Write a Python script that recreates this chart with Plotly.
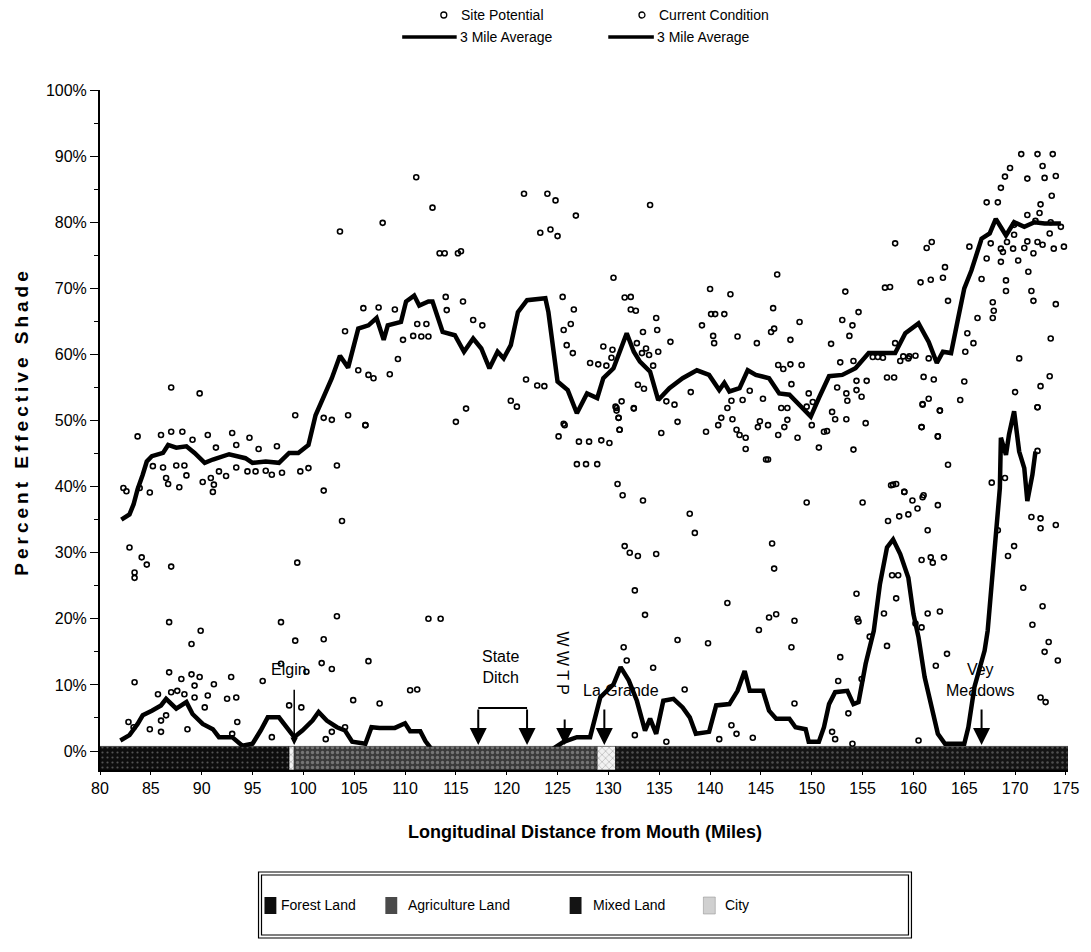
import plotly.graph_objects as go

# ---------------- data ----------------
sp_avg_x = [82.1, 82.9, 83.3, 83.7, 84.2, 84.6, 85.1, 86.2, 86.7, 87.5, 88.5, 89.3, 90.3, 91.1, 92.7, 94.3, 95.0,
            96.3, 97.6, 98.6, 99.5, 100.5, 101.2, 102.2, 102.8, 103.6, 104.4, 105.4, 106.4, 107.2, 107.9, 108.3,
            109.6, 110.1, 110.9, 111.4, 112.3, 112.7, 113.7, 114.9, 115.8, 116.7, 117.5, 118.3, 119.1, 119.7,
            120.4, 121.1, 122.0, 123.8, 124.1, 125.0, 126.0, 126.9, 127.9, 128.9, 129.5, 130.5, 131.5, 131.8,
            132.5, 133.1, 134.1, 134.9, 136.0, 137.3, 138.7, 139.9, 140.9, 141.4, 141.9, 142.9, 143.7, 144.5,
            145.8, 146.8, 147.8, 148.4, 149.9, 150.7, 151.7, 153.0, 154.3, 155.6, 157.2, 158.2, 159.2, 160.5,
            161.5, 162.3, 162.9, 163.7, 164.4, 165.0, 165.7, 166.7, 167.5, 168.1, 169.1, 169.9, 170.9, 171.9,
            172.9, 174.5]
sp_avg_y = [35.0, 35.8, 37.3, 39.6, 41.8, 43.8, 44.6, 45.1, 46.3, 45.9, 46.1, 45.1, 43.6, 44.1, 44.9, 44.3, 43.6,
            43.8, 43.6, 45.1, 45.1, 46.3, 50.8, 54.4, 56.4, 59.8, 58.0, 63.9, 64.4, 65.5, 62.2, 64.4,
            64.9, 68.0, 68.9, 67.4, 68.0, 68.0, 63.4, 62.9, 60.4, 62.4, 60.9, 57.9, 60.4, 59.4,
            61.4, 66.4, 68.2, 68.5, 66.4, 55.9, 54.6, 51.1, 54.1, 53.4, 56.4, 57.9, 61.9, 63.2,
            60.4, 58.9, 57.4, 53.1, 54.9, 56.4, 57.6, 56.9, 54.6, 55.7, 54.4, 54.9, 57.6, 56.9,
            56.4, 54.1, 53.9, 52.9, 50.6, 53.4, 56.7, 56.9, 57.9, 60.2, 60.2, 60.2, 63.2, 64.7,
            61.9, 58.7, 60.4, 60.2, 65.5, 70.0, 72.7, 77.5, 78.3, 80.5, 78.0, 80.0, 79.3, 80.0,
            79.8, 79.8]

cc_avg_x = [82.0, 82.9, 83.7, 84.2, 85.1, 86.0, 86.5, 87.5, 88.5, 89.1, 90.1, 91.1, 91.7, 93.0, 94.0, 95.0, 95.8,
            96.5, 97.6, 99.1, 99.9, 100.9, 101.5, 102.3, 103.3, 104.1, 104.8, 106.1, 106.7, 107.5, 109.0, 110.0,
            110.5, 111.5, 112.0, 112.6, 114.0, 118.0, 122.0, 124.5, 125.6, 126.9, 128.2, 129.2, 130.5, 131.2,
            132.0, 132.8, 133.6, 134.1, 134.7, 135.4, 136.4, 137.3, 138.0, 138.6, 139.9, 140.6, 141.9, 142.7,
            143.4, 143.9, 145.2, 145.8, 146.5, 147.8, 148.4, 149.4, 149.7, 150.7, 151.2, 151.7, 152.3, 153.5,
            154.1, 154.6, 155.3, 156.1, 156.7, 157.4, 158.0, 158.7, 159.5, 160.0, 160.5, 161.1, 161.8, 162.4,
            163.1, 165.0, 165.4, 166.0, 167.0, 167.3, 168.0, 168.5, 168.6, 169.1, 169.4, 169.9, 170.4, 170.9,
            171.2, 171.7, 172.0]
cc_avg_y = [1.6, 2.4, 4.1, 5.4, 6.1, 6.9, 7.9, 6.4, 7.4, 5.6, 4.1, 3.3, 2.1, 2.1, 0.8, 1.1, 3.1,
            5.1, 5.1, 2.1, 3.1, 4.6, 5.9, 4.6, 3.6, 3.1, 1.4, 1.1, 3.6, 3.5, 3.5, 4.2,
            3.0, 3.0, 1.5, 0.3, 0.0, 0.0, 0.0, 0.3, 1.4, 2.1, 2.1, 8.1, 10.1, 12.7,
            10.7, 7.6, 3.1, 4.9, 2.6, 7.6, 7.9, 6.6, 5.1, 2.6, 2.9, 6.9, 7.1, 9.1,
            12.1, 9.1, 9.1, 6.1, 4.9, 4.9, 3.6, 3.3, 1.4, 1.4, 3.6, 7.1, 8.9, 9.1,
            7.1, 7.4, 13.2, 18.2, 25.2, 30.8, 32.0, 29.8, 26.2, 20.7, 17.2, 11.2, 6.6, 2.6,
            1.1, 1.1, 3.6, 9.7, 15.2, 18.2, 30.8, 39.8, 47.4, 44.8, 47.9, 51.4, 45.3, 42.8,
            37.8, 41.8, 45.3]

sp_x = [87.0, 89.8, 83.7, 86.0, 87.0, 88.1, 89.1, 90.6, 91.4, 93.0, 94.7, 93.4, 95.6, 97.4, 99.2, 102.0, 102.8,
        104.4, 106.1, 82.3, 82.6, 83.9, 84.9, 85.2, 86.2, 86.5, 86.7, 87.5, 87.8, 88.3, 88.5, 90.1, 90.9, 91.1,
        91.2, 91.7, 92.4, 93.4, 94.5, 95.3, 96.3, 96.9, 97.9, 99.7, 100.5, 102.0, 103.3, 103.8, 103.6, 104.1,
        111.1, 112.7, 107.8, 113.4, 113.9, 115.2, 115.5, 121.7, 124.0, 124.8, 126.8, 123.3, 124.3, 125.0,
        134.1, 130.5, 105.9, 107.4, 109.0, 114.0, 114.1, 115.7, 111.2, 112.1, 116.7, 117.6, 109.3, 109.8,
        110.8, 111.6, 112.3, 105.4, 106.4, 106.9, 108.5, 106.1, 115.0, 116.0, 120.4, 121.0, 121.9, 123.0,
        123.7, 125.5, 126.6, 125.6, 126.3, 125.9, 126.5, 125.1, 125.7, 128.2, 129.0, 129.8, 129.5, 130.4,
        130.3, 131.6, 132.2, 132.2, 132.7, 132.8, 133.3, 133.7, 134.0, 134.4, 133.4, 134.7, 134.8, 134.9,
        136.1, 132.9, 133.5, 130.7, 131.3, 130.8, 131.0, 131.1, 132.5, 135.7, 136.5, 138.1, 139.2, 140.0,
        140.1, 140.3, 140.4, 136.8, 135.2, 139.6,
        170.6, 172.2, 173.7, 169.5, 172.7, 169.0, 171.2, 172.9, 174.0, 168.6, 173.6, 167.2, 168.3, 172.5,
        171.2, 172.4, 172.0, 173.5, 174.5, 169.9, 173.4, 169.9, 167.6, 169.2, 171.2, 172.2, 172.7, 168.6,
        169.8, 170.9, 173.8, 174.8, 168.8, 171.8, 165.5, 167.2, 168.6, 170.3, 166.7, 169.1, 171.3, 169.1,
        171.6, 171.8, 167.8, 167.9, 174.0, 166.3, 167.8, 165.3, 165.9, 165.1, 173.5, 170.4, 173.4, 172.5,
        170.0, 172.2, 165.0, 164.6, 162.6, 160.9, 161.5, 160.8, 162.4, 161.0, 162.0, 157.4, 158.1, 158.2,
        161.8, 161.3, 163.1, 162.9, 160.7, 161.7, 157.2, 157.7, 163.4, 158.2, 159.5, 161.5, 158.7, 146.6,
        153.3, 142.0, 146.2, 154.6, 153.0, 148.8, 154.0, 153.7, 140.5, 141.4, 146.0, 146.3, 142.7, 144.6,
        147.9, 151.9, 146.7, 147.2, 147.9, 149.0, 152.8, 154.1, 148.0, 152.5, 154.4, 155.4, 153.4, 154.4,
        154.9, 143.9, 142.1, 143.2, 145.2, 141.7, 147.0, 147.6, 149.7, 150.1, 149.5, 153.5, 141.1, 142.2,
        144.9, 147.6, 152.0, 152.3, 153.4, 150.0, 155.3, 140.8, 142.6, 142.9, 144.7, 145.7, 147.3, 146.7,
        143.5, 151.2, 151.5, 150.7, 143.5, 148.6, 145.7, 154.1, 156.0, 156.5, 157.0, 159.0, 159.6, 160.2]
sp_y = [55.0, 54.1, 47.6, 47.8, 48.3, 48.3, 47.1, 47.8, 45.9, 48.1, 47.4, 46.3, 45.7, 46.1, 50.8, 50.4, 50.1,
        50.8, 49.3, 39.8, 39.3, 39.8, 39.1, 43.1, 42.9, 41.3, 40.4, 43.2, 39.9, 43.2, 41.7, 40.7, 41.3, 39.2,
        40.3, 42.3, 41.6, 42.9, 42.3, 42.3, 42.4, 41.8, 42.1, 42.3, 42.8, 39.4, 43.2, 34.8, 78.6, 63.5,
        86.8, 82.2, 79.9, 75.3, 75.3, 75.3, 75.6, 84.3, 84.3, 83.3, 81.0, 78.4, 78.9, 77.9,
        82.6, 71.6, 67.0, 67.1, 66.8, 68.7, 66.7, 68.0, 64.6, 64.6, 65.2, 64.4, 59.3, 62.2,
        62.8, 62.7, 62.7, 57.6, 56.9, 56.4, 57.0, 49.3, 49.8, 51.8, 53.0, 52.1, 56.2, 55.3,
        55.2, 68.7, 66.8, 63.7, 64.6, 61.4, 60.2, 47.6, 49.3, 58.7, 58.5, 58.3, 61.2, 60.7,
        59.5, 68.6, 68.7, 66.8, 66.6, 61.7, 60.2, 60.9, 59.9, 58.3, 63.4, 65.5, 63.7, 60.4,
        61.9, 55.4, 54.8, 52.1, 52.9, 51.5, 50.4, 48.6, 51.8, 52.9, 52.4, 54.3, 64.4, 69.9,
        66.1, 62.8, 61.7, 49.8, 48.1, 48.3,
        90.3, 90.3, 90.3, 88.2, 88.5, 86.9, 86.6, 86.7, 87.0, 85.2, 84.0, 83.0, 83.0, 82.7,
        81.1, 81.4, 80.2, 80.0, 79.3, 79.6, 78.3, 78.1, 76.8, 77.0, 77.1, 77.0, 76.6, 76.0,
        76.0, 76.1, 76.0, 76.3, 75.5, 75.3, 76.3, 74.5, 74.0, 74.2, 71.4, 71.2, 72.5, 69.6,
        69.6, 68.1, 67.9, 66.6, 67.6, 65.5, 65.5, 63.2, 61.7, 60.4, 62.4, 59.4, 56.7, 55.2,
        54.3, 52.0, 55.9, 53.1, 51.5, 52.5, 53.3, 49.0, 47.6, 56.6, 56.2, 56.5, 56.5, 76.8,
        77.0, 76.1, 73.2, 71.6, 70.9, 71.3, 70.1, 70.2, 68.1, 61.7, 59.4, 59.4, 59.0, 72.1,
        69.5, 69.1, 67.0, 66.4, 65.2, 64.9, 64.4, 62.8, 66.1, 66.1, 63.4, 63.9, 62.7, 61.7,
        62.2, 61.6, 58.4, 57.8, 58.5, 58.4, 58.8, 59.0, 55.5, 55.0, 56.0, 56.0, 54.1, 54.6,
        53.6, 54.5, 53.0, 53.1, 53.3, 51.9, 51.9, 51.9, 54.1, 52.8, 52.1, 53.0, 50.4, 50.2,
        49.9, 50.1, 51.3, 50.2, 50.2, 49.3, 49.6, 49.3, 48.6, 47.8, 49.0, 49.3, 49.0, 47.8,
        47.4, 48.3, 48.4, 45.9, 45.7, 47.4, 44.1, 45.6, 59.6, 59.6, 59.5, 59.7, 59.7, 59.8]

cc_x = [82.9, 84.1, 84.6, 83.4, 83.4, 87.0, 99.4, 86.8, 89.9, 89.0, 97.8, 99.2, 102.0, 97.8, 101.8, 102.8,
        83.4, 86.8, 88.0, 89.0, 89.3, 89.8, 91.2, 92.9, 85.7, 87.0, 87.6, 88.3, 89.3, 90.6, 92.5, 93.4, 104.9,
        98.6, 99.8, 90.3, 86.5, 86.0, 82.8, 83.3, 84.9, 86.0, 88.6, 93.5, 93.0, 96.9, 102.2, 102.8, 104.1,
        106.4, 107.5, 110.5, 111.2, 112.3, 113.5, 103.3, 100.3, 96.0,
        125.6, 130.8, 131.0, 132.5, 131.1, 127.1, 128.1, 129.3, 130.1, 126.9, 127.8, 128.9, 130.9, 131.4,
        133.4, 131.6, 132.1, 132.9, 134.7, 132.6, 133.6, 131.5, 131.8, 134.4, 136.8, 137.5, 139.8, 138.0,
        138.5, 141.7, 144.8, 145.8, 146.5, 146.1, 146.3, 148.3, 148.0, 148.3, 149.5, 145.5, 142.1, 142.6,
        144.2, 140.9, 132.6, 135.7, 152.8, 152.6, 153.6, 152.0, 152.3, 154.0, 154.4, 154.5, 154.6, 155.0,
        155.7, 154.9, 157.1, 157.4, 157.8, 158.3, 159.1, 159.9, 160.9, 157.5, 158.6, 159.5, 160.4, 162.4,
        161.4, 157.9, 158.5, 158.3, 160.8, 161.7, 161.9, 163.0, 161.4, 162.6, 160.2, 160.8, 162.2, 163.3,
        160.5, 160.8, 162.4, 162.6, 160.9, 163.4, 168.3, 169.0, 169.9, 169.3, 171.6, 172.5, 172.5, 174.0,
        170.8, 172.7, 171.7, 173.3, 172.9, 174.2, 172.5, 173.0, 172.2, 167.7, 158.0, 159.1, 161.0, 172.2]
cc_y = [30.8, 29.3, 28.2, 27.0, 26.2, 27.9, 28.5, 19.5, 18.2, 16.2, 19.5, 16.7, 16.9, 13.2, 13.3, 12.4,
        10.4, 11.9, 10.9, 11.6, 9.9, 11.2, 10.1, 11.2, 8.6, 8.9, 9.1, 8.6, 8.1, 8.4, 7.9, 8.1, 7.7,
        6.9, 6.6, 6.6, 5.4, 4.6, 4.4, 3.6, 3.3, 2.9, 3.3, 4.4, 2.6, 2.1, 1.8, 2.9, 3.6,
        13.6, 7.2, 9.2, 9.3, 20.0, 20.0, 20.4, 12.0, 10.6,
        49.5, 51.9, 50.4, 51.9, 48.6, 46.8, 46.8, 47.0, 46.6, 43.4, 43.4, 43.4, 40.4, 38.7,
        37.9, 31.0, 30.0, 29.5, 29.8, 24.3, 20.6, 15.7, 13.7, 12.6, 16.8, 9.3, 16.3, 35.9,
        33.0, 22.4, 18.3, 20.2, 20.7, 31.4, 27.6, 19.7, 15.7, 7.2, 37.6, 44.1, 3.9, 2.6,
        2.0, 1.8, 2.4, 1.4, 14.2, 10.6, 5.7, 2.9, 1.8, 1.1, 23.8, 20.0, 19.6, 37.6,
        17.3, 10.9, 20.8, 15.9, 40.2, 40.4, 39.2, 37.9, 38.4, 34.8, 35.5, 35.8, 36.7, 37.2,
        33.4, 26.6, 26.6, 23.1, 28.9, 29.3, 28.5, 29.3, 20.8, 21.1, 19.3, 18.7, 12.9, 14.7,
        1.6, 49.0, 47.6, 51.5, 52.4, 43.3, 33.4, 41.3, 31.0, 29.5, 35.4, 35.2, 33.7, 34.2,
        24.7, 21.9, 19.1, 16.5, 15.0, 13.7, 8.1, 7.4, 52.0, 40.6, 40.3, 39.2, 38.7, 45.4]

# land-use strips along the channel (miles)
land_start = [80.0, 98.6, 99.1, 128.9, 130.7]
land_end = [98.6, 99.1, 128.9, 130.7, 175.2]
land_type = ["Forest Land", "City", "Agriculture Land", "City", "Mixed Land"]

x_ticks = list(range(80, 176, 5))
y_ticks = [i / 10 for i in range(0, 11)]

# ---------------- figure ----------------
SANS = "Liberation Sans, Arial, sans-serif"

W, H = 1091, 952
ML, MR, MT, MB = 100, 14, 90, 182
PW, PH = W - ML - MR, H - MT - MB
Y_LO, Y_HI = -0.0287, 1.0
X_LO, X_HI = 80, 175.2

fig = go.Figure()

fig.add_trace(go.Scatter(x=sp_x, y=[v / 100 for v in sp_y], mode="markers", name="Site Potential",
                         marker=dict(symbol="circle-open", size=5, color="black", line=dict(width=1.6)),
                         showlegend=False))
fig.add_trace(go.Scatter(x=cc_x, y=[v / 100 for v in cc_y], mode="markers", name="Current Condition",
                         marker=dict(symbol="circle-open", size=5, color="black", line=dict(width=1.6)),
                         showlegend=False))
fig.add_trace(go.Scatter(x=sp_avg_x, y=[v / 100 for v in sp_avg_y], mode="lines", name="3 Mile Average",
                         line=dict(color="black", width=4.5), showlegend=False))
fig.add_trace(go.Scatter(x=cc_avg_x, y=[v / 100 for v in cc_avg_y], mode="lines", name="3 Mile Average",
                         line=dict(color="black", width=4.5), showlegend=False))

land_style = {
    "Forest Land": dict(bg="#0d0d0d", fg="#9a9a9a", shape=".", solidity=0.15),
    "Agriculture Land": dict(bg="#3a3a3a", fg="#b0b0b0", shape=".", solidity=0.35),
    "Mixed Land": dict(bg="#141414", fg="#8a8a8a", shape=".", solidity=0.2),
    "City": dict(bg="#f2f2f2", fg="#8c8c8c", shape="x", solidity=0.3),
}
BAR_LO, BAR_HI = Y_LO, 0.007
for s, e, t in zip(land_start, land_end, land_type):
    st = land_style[t]
    fig.add_trace(go.Scatter(
        x=[s, e, e, s, s], y=[BAR_LO, BAR_LO, BAR_HI, BAR_HI, BAR_LO], mode="lines",
        fill="toself", fillcolor=st["bg"], line=dict(width=0.5, color="black"),
        fillpattern=dict(shape=st["shape"], bgcolor=st["bg"], fgcolor=st["fg"], size=5,
                         solidity=st["solidity"]),
        hoverinfo="skip", showlegend=False))

# ---------- annotations on the channel ----------
ann = []
arrow_common = dict(showarrow=True, arrowhead=2, arrowsize=1.7, arrowwidth=2, arrowcolor="black",
                    axref="x", ayref="y", xref="x", yref="y", text="")
for xm, ytop in [(117.2, 0.065), (122.0, 0.065), (125.7, 0.050), (129.6, 0.065), (166.7, 0.065)]:
    ann.append(dict(x=xm, y=0.009, ax=xm, ay=ytop, **arrow_common))
ann.append(dict(x=99.1, y=0.009, ax=99.1, ay=0.095, showarrow=True, arrowhead=2, arrowsize=1,
                arrowwidth=1.5, arrowcolor="black", axref="x", ayref="y", xref="x", yref="y", text=""))

txt_font = dict(family=SANS, size=16, color="black")
ann += [
    dict(x=98.6, y=0.124, text="Elgin", showarrow=False, font=txt_font, xref="x", yref="y"),
    dict(x=119.4, y=0.127, text="State<br>Ditch", showarrow=False, font=txt_font, xref="x", yref="y"),
    dict(x=125.5, y=0.133, text="W W T P", textangle=90, showarrow=False, font=txt_font, xref="x", yref="y"),
    dict(x=131.2, y=0.092, text="La Grande", showarrow=False, font=txt_font, xref="x", yref="y"),
    dict(x=166.5, y=0.107, text="Vey<br>Meadows", showarrow=False, font=txt_font, xref="x", yref="y"),
]

shapes = [
    # State Ditch bracket
    dict(type="line", xref="x", yref="y", x0=117.2, x1=122.0, y0=0.065, y1=0.065,
         line=dict(color="black", width=2)),
]


def px_to_paper(px, py):
    """pixel position (from top-left of the page) -> paper fraction"""
    return (px - ML) / PW, (H - py - MB) / PH


def pann(px, py, text, size=14, xanchor="left", **kw):
    fx, fy = px_to_paper(px, py)
    return dict(x=fx, y=fy, xref="paper", yref="paper", text=text, showarrow=False,
                xanchor=xanchor, yanchor="middle", font=dict(family=SANS, size=size, color="black"), **kw)


def pshape(kind, x0, y0, x1, y1, **kw):
    fx0, fy0 = px_to_paper(x0, y0)
    fx1, fy1 = px_to_paper(x1, y1)
    return dict(type=kind, xref="paper", yref="paper", x0=fx0, y0=fy0, x1=fx1, y1=fy1, **kw)


# ---------- axis titles ----------
ann += [
    pann(590, 832, "<b>Longitudinal Distance from Mouth (Miles)</b>", size=18, xanchor="center"),
    pann(20, 422, '<span style="letter-spacing:4px"><b>Percent Effective Shade</b></span>', size=19,
         xanchor="center", textangle=-90),
]

# ---------- top legend (manual) ----------
ann += [
    pann(462, 15, "Site Potential", size=14),
    pann(662, 15, "Current Condition", size=14),
    pann(461, 37, "3 Mile Average", size=14),
    pann(660, 37, "3 Mile Average", size=14),
]
# ---------- bottom legend (manual) ----------
ann += [pann(x0, 905, t, size=14) for x0, t in [(281, "Forest Land"), (409, "Agriculture Land"),
                                                  (596, "Mixed Land"), (729, "City")]]

shapes += [
    # top legend symbols
    pshape("circle", 444, 12, 450, 18, line=dict(color="black", width=1.3)),
    pshape("circle", 644, 12, 650, 18, line=dict(color="black", width=1.3)),
    pshape("line", 405, 37, 460, 37, line=dict(color="black", width=3.5)),
    pshape("line", 613, 37, 659, 37, line=dict(color="black", width=3.5)),
    # bottom legend box (double border)
    pshape("rect", 260, 872, 919, 938, line=dict(color="black", width=1.2)),
    pshape("rect", 263, 875, 916, 935, line=dict(color="black", width=1.2)),
    # swatches
    pshape("rect", 266, 897, 278, 914, fillcolor="#0d0d0d", line=dict(width=0)),
    pshape("rect", 388, 897, 400, 914, fillcolor="#4a4a4a", line=dict(width=0)),
    pshape("rect", 574, 897, 586, 914, fillcolor="#141414", line=dict(width=0)),
    pshape("rect", 709, 897, 721, 914, fillcolor="#d0d0d0", line=dict(width=0.5, color="#888")),
]

fig.update_layout(
    annotations=ann, shapes=shapes,
    width=W, height=H, autosize=False,
    margin=dict(l=ML, r=MR, t=MT, b=MB),
    paper_bgcolor="white", plot_bgcolor="white",
    showlegend=False,
    font=dict(family=SANS, size=16, color="black"),
    xaxis=dict(range=[X_LO, X_HI], tickvals=x_ticks, ticktext=[str(v) for v in x_ticks],
               showgrid=False, zeroline=False, showline=True, linecolor="black", linewidth=1.5,
               ticks="outside", ticklen=3, tickcolor="black", ticklabeloverflow="allow",
               tickfont=dict(family=SANS, size=16)),
    yaxis=dict(range=[Y_LO, Y_HI], tickvals=y_ticks, tickformat=".0%",
               showgrid=False, zeroline=False, showline=True, linecolor="black", linewidth=2,
               ticks="outside", ticklen=8, tickcolor="black",
               minor=dict(dtick=0.05, tick0=0, ticks="outside", ticklen=4, tickcolor="black"),
               tickfont=dict(family=SANS, size=16)),
)

fig.write_html("out.html", config={"displayModeBar": False},
               post_script="document.body.style.margin='0px';document.body.style.overflow='hidden';")
